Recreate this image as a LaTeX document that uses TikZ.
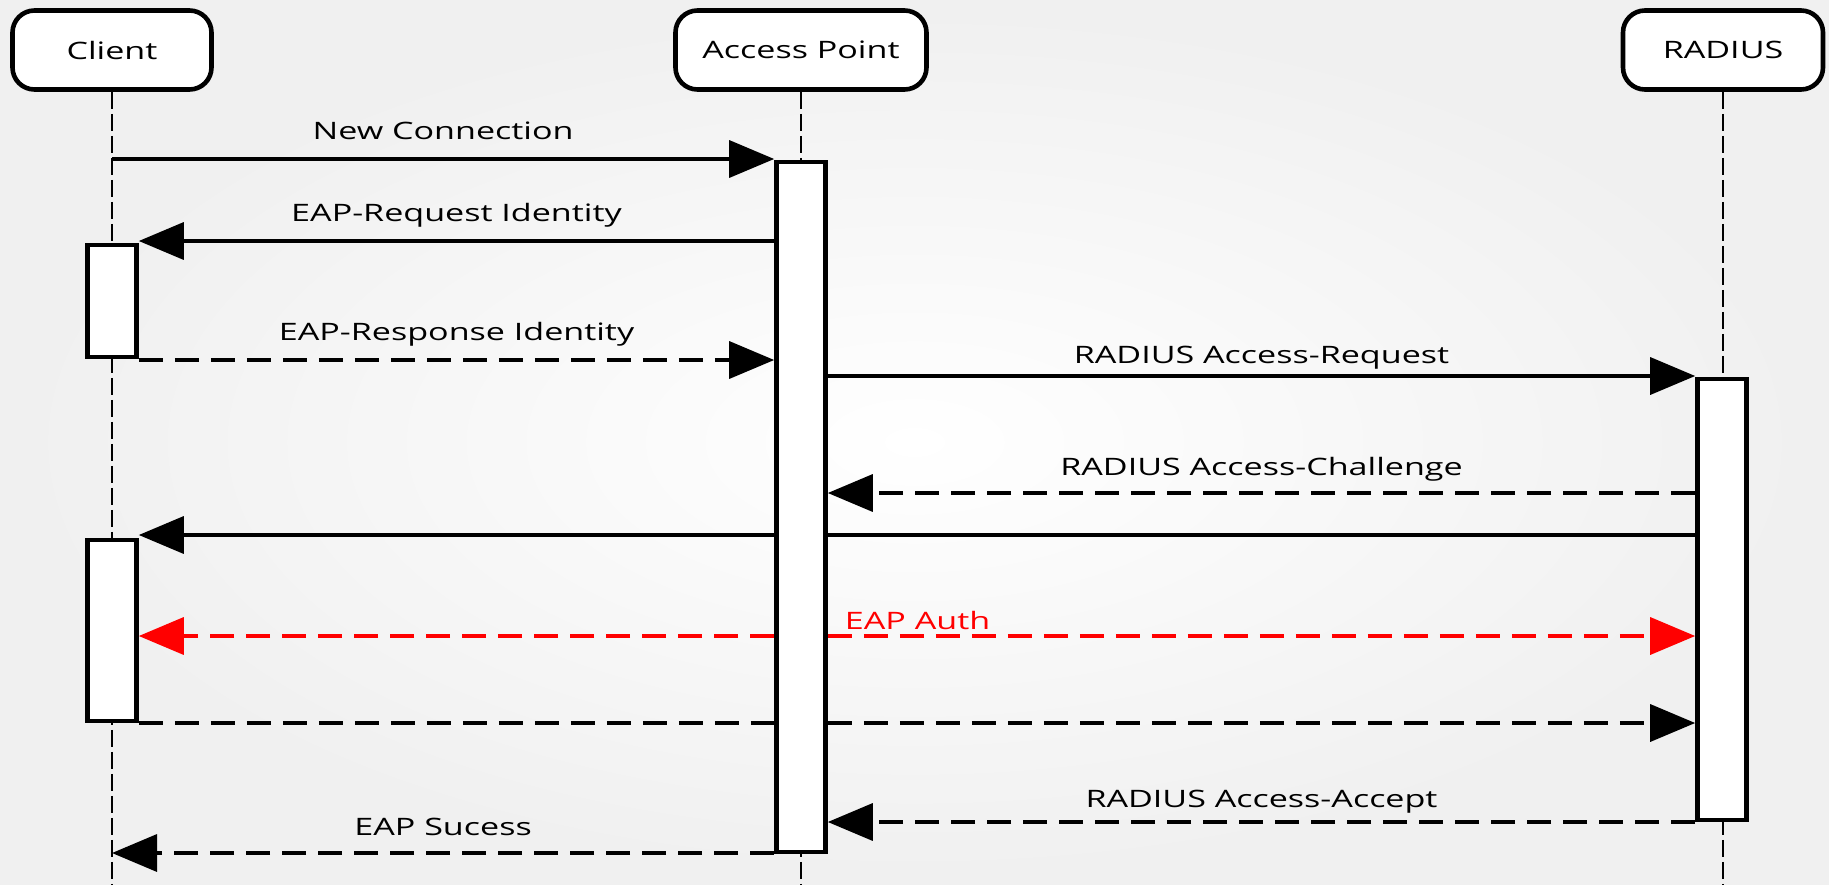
\documentclass[tikz,border=0pt]{standalone}
\usepackage{fontspec}
\setmainfont{Open Sans}[FakeStretch=1.42]
\usetikzlibrary{arrows.meta,positioning}

\begin{document}
\begin{tikzpicture}[x=1pt,y=-1pt,
  actor/.style={draw,line width=4.6pt,rounded corners=22pt,fill=white,
    minimum height=79pt,font=\fontsize{24}{28}\selectfont},
  actbar/.style={draw,line width=4.6pt,fill=white,minimum width=49pt,inner sep=0pt},
  lifeline/.style={line width=1.6pt,dash pattern=on 17pt off 5pt},
  msg/.style={line width=3.5pt,-{Triangle[length=45pt,width=37pt]}},
  ret/.style={msg,dash pattern=on 24pt off 12pt},
  lbl/.style={midway,anchor=base,yshift=20pt,font=\fontsize{24}{28}\selectfont}]

  % Background
  \useasboundingbox (0,0) rectangle (1829,884);
  \shade[inner color=white,outer color=black!6] (0,0) rectangle (1829,884);
  \coordinate (bottom) at (0,884);

  % Participants
  \node[actor,minimum width=199pt] (client) at (112,50) {Client};
  \node[actor,minimum width=251pt] (ap) at (801,50) {Access Point};
  \node[actor,minimum width=200pt] (srv) at (1723,50) {RADIUS};

  % Lifelines
  \foreach \p in {client,ap,srv}
    \draw[lifeline] (\p.south) -- (\p.south |- bottom);

  % Activation bars
  \node[actbar,minimum height=690pt] (apbar) at (801,507) {};
  \node[actbar,minimum height=112pt] (cbar1) at (112,301) {};
  \node[actbar,minimum height=181pt] (cbar2) at (112,630.5) {};
  \node[actbar,minimum height=441pt] (srvbar) at (1722,599.5) {};

  % Message rows
  \foreach \n/\y in {1/159,2/241,3/360,4/376,5/493,6/535,7/636,8/723,9/822,10/853}
    \coordinate (m\n) at (0,\y);

  % Identity exchange
  \draw[msg] (client |- m1) -- (apbar.west |- m1) node[lbl]{New Connection};
  \draw[msg] (apbar.west |- m2) -- (cbar1.east |- m2) node[lbl]{EAP-Request Identity};
  \draw[ret] (cbar1.east |- m3) -- (apbar.west |- m3) node[lbl]{EAP-Response Identity};
  \draw[msg] (apbar.east |- m4) -- (srvbar.west |- m4) node[lbl,yshift=-7pt]{RADIUS Access-Request};
  \draw[ret] (srvbar.west |- m5) -- (apbar.east |- m5) node[lbl,yshift=-2pt]{RADIUS Access-Challenge};

  % Challenge passed through
  \draw[line width=3.5pt] (srvbar.west |- m6) -- (apbar.east |- m6);
  \draw[msg] (apbar.west |- m6) -- (cbar2.east |- m6);

  % EAP Auth
  \draw[ret,red] (apbar.west |- m7) -- (cbar2.east |- m7);
  \draw[ret,red] (apbar.east |- m7) -- (srvbar.west |- m7)
    node[pos=0,anchor=base west,xshift=12pt,yshift=7pt,text=red,
      font=\fontsize{24}{28}\selectfont]{EAP Auth};

  % Response passed through
  \draw[ret,-] (cbar2.east |- m8) -- (apbar.west |- m8);
  \draw[ret] (apbar.east |- m8) -- (srvbar.west |- m8);

  % Accept
  \draw[ret] (srvbar.west |- m9) -- (apbar.east |- m9) node[lbl,yshift=-5pt]{RADIUS Access-Accept};
  \draw[ret] (apbar.west |- m10) -- (client |- m10) node[lbl,yshift=-2pt]{EAP Sucess};
\end{tikzpicture}
\end{document}
